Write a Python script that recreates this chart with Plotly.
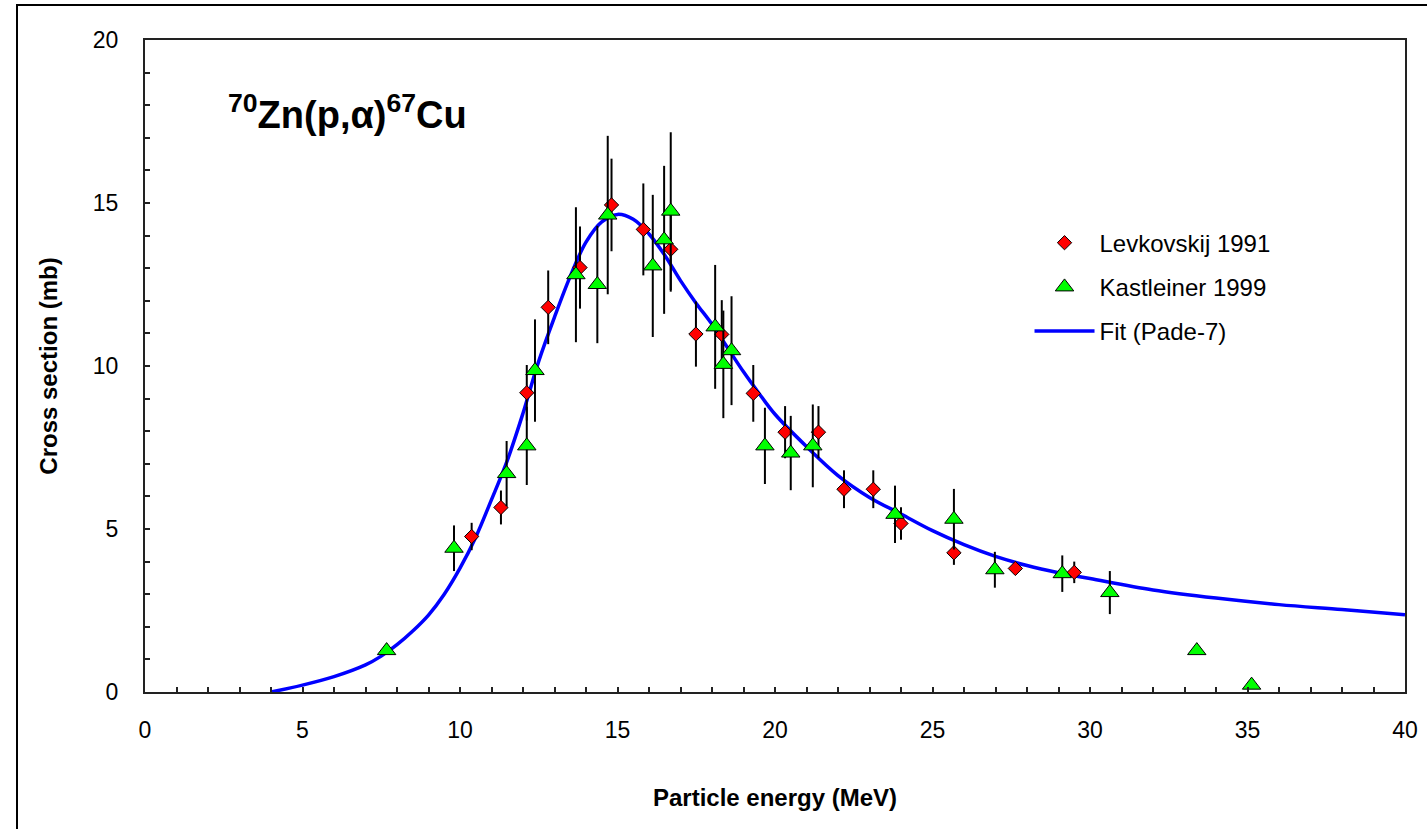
import plotly.graph_objects as go

# Levkovskij 1991
lev_x = [10.37, 11.3, 12.12, 12.8, 13.81, 14.81, 15.82, 16.69, 17.49, 18.31, 19.31, 20.32, 21.38, 22.19, 23.12, 24.0, 25.68, 27.63, 29.5]
lev_y = [4.77, 5.66, 9.18, 11.8, 13.02, 14.94, 14.19, 13.58, 10.98, 10.97, 9.16, 7.97, 7.97, 6.22, 6.22, 5.17, 4.27, 3.79, 3.67]
lev_err = [0.42, 0.52, 0.85, 1.13, 1.26, 1.42, 1.41, 1.3, 1.0, 1.05, 0.87, 0.8, 0.8, 0.58, 0.58, 0.5, 0.37, 0.19, 0.33]

# Kastleiner 1999
kas_x = [7.67, 9.81, 11.48, 12.12, 12.38, 13.68, 14.36, 14.69, 16.12, 16.48, 16.69, 18.1, 18.36, 18.62, 19.68, 20.5, 21.2, 23.81, 25.68, 26.98, 29.12, 30.63, 33.39, 35.13]
kas_y = [1.27, 4.41, 6.7, 7.55, 9.86, 12.8, 12.5, 14.63, 13.07, 13.87, 14.75, 11.2, 10.05, 10.47, 7.55, 7.33, 7.55, 5.45, 5.3, 3.75, 3.63, 3.05, 1.27, 0.21]
kas_err = [0, 0.7, 1.0, 1.2, 1.57, 2.07, 1.8, 2.43, 2.18, 2.27, 2.42, 1.9, 1.65, 1.67, 1.17, 1.14, 1.27, 0.88, 0.93, 0.55, 0.56, 0.66, 0, 0]

# Fit (Pade-7)
fit_x = [4, 5, 6, 7, 7.5, 8, 8.5, 9, 9.5, 10, 10.5, 11, 11.5, 12, 12.5, 13, 13.5, 14, 14.5, 15, 15.5, 16, 16.5, 17, 17.5, 18, 18.5, 19, 19.5, 20, 21, 22, 23, 24, 25, 26, 27, 28, 29, 30, 32, 34, 36, 38, 40]
fit_y = [0, 0.21, 0.47, 0.83, 1.1, 1.45, 1.87, 2.36, 3.0, 3.8, 4.75, 5.9, 7.1, 8.55, 10.15, 11.5, 12.75, 13.8, 14.42, 14.65, 14.5, 14.05, 13.4, 12.62, 11.92, 11.28, 10.55, 9.82, 9.15, 8.52, 7.53, 6.64, 5.97, 5.46, 4.95, 4.52, 4.16, 3.88, 3.66, 3.48, 3.13, 2.88, 2.68, 2.53, 2.37]

FONT = "Liberation Sans, Arial, sans-serif"

fig = go.Figure()

fig.add_trace(go.Scatter(
    x=fit_x, y=fit_y, mode="lines", name="Fit (Pade-7)",
    line=dict(color="#0000FF", width=3.5, shape="spline", smoothing=1.0),
    legendrank=3, legendgroup="c",
))

fig.add_trace(go.Scatter(
    x=lev_x, y=lev_y, mode="markers", name="Levkovskij 1991",
    marker=dict(symbol="diamond", size=11, color="#FF0000", line=dict(color="#000000", width=1)),
    error_y=dict(type="data", array=lev_err, color="#000000", thickness=2, width=0),
    legendrank=1, legendgroup="a",
))

fig.add_trace(go.Scatter(
    x=kas_x, y=kas_y, mode="markers", name="Kastleiner 1999",
    marker=dict(symbol="triangle-up", size=16, color="#00FF00", line=dict(color="#000000", width=1)),
    error_y=dict(type="data", array=kas_err, color="#000000", thickness=2, width=0),
    legendrank=2, legendgroup="b",
))

axis_common = dict(
    showgrid=False, zeroline=False, showline=True, linecolor="#222222", linewidth=2,
    mirror=True, ticks="inside", ticklen=5, tickwidth=1.5, tickcolor="#222222",
    tickfont=dict(family=FONT, size=23, color="#000000"),
    minor=dict(ticks="inside", ticklen=5, tickwidth=1.5, tickcolor="#222222", dtick=1),
)

fig.update_xaxes(
    range=[0, 40], dtick=5, tick0=0, ticklabelstandoff=16,
    title=dict(text="Particle energy (MeV)", font=dict(family=FONT, size=24, color="#000000", weight="bold"), standoff=48),
    **axis_common,
)
fig.update_yaxes(
    range=[0, 20], dtick=5, tick0=0, ticklabelstandoff=20,
    title=dict(text="Cross section (mb)", font=dict(family=FONT, size=24, color="#000000", weight="bold"), standoff=28),
    **axis_common,
)

fig.add_annotation(
    x=0.064, y=0.89, xref="paper", yref="paper", xanchor="left", yanchor="middle",
    text="<sup>70</sup>Zn(p,α)<sup>67</sup>Cu", showarrow=False,
    font=dict(family=FONT, size=38, color="#000000", weight="bold"),
)

# outer frame (extends beyond the picture on right and bottom)
fig.add_shape(
    type="rect", xref="paper", yref="paper",
    x0=(17 - 145) / 1260, x1=(1440 - 145) / 1260,
    y0=(692 - 840) / 652, y1=(692 - 5) / 652,
    line=dict(color="#000000", width=2), fillcolor="rgba(0,0,0,0)", layer="below",
)

fig.update_layout(
    width=1427, height=829,
    margin=dict(l=145, r=22, t=40, b=137, autoexpand=False),
    paper_bgcolor="#FFFFFF", plot_bgcolor="#FFFFFF",
    showlegend=True,
    legend=dict(
        x=0.702, y=0.723, xanchor="left", yanchor="top",
        font=dict(family=FONT, size=24, color="#000000"),
        bgcolor="rgba(0,0,0,0)", borderwidth=0, itemwidth=60,
        tracegroupgap=10, traceorder="grouped",
    ),
)

fig.write_html("out.html")
